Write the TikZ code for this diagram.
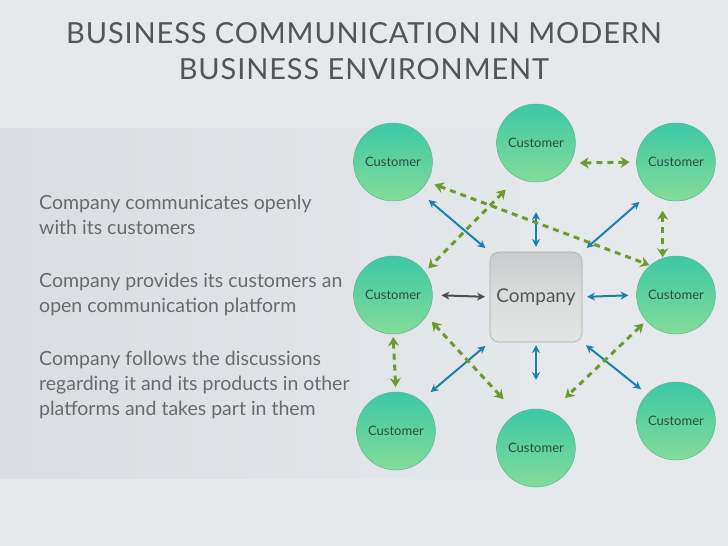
\documentclass[tikz,border=0pt]{standalone}
\usepackage{fontspec}
\setmainfont{Lato}
\usetikzlibrary{shapes.geometric,arrows.meta}
\definecolor{bgcol}{HTML}{E6E9EC}
\definecolor{bandcol}{HTML}{DADDE1}
\definecolor{titlecol}{HTML}{555555}
\definecolor{textcol}{HTML}{6A6A6A}
\definecolor{custtop}{HTML}{3CC8A6}
\definecolor{custbot}{HTML}{84DC99}
\definecolor{custline}{HTML}{5DB58E}
\definecolor{custtext}{HTML}{2F4A42}
\definecolor{boxtop}{HTML}{C8CCCC}
\definecolor{boxbot}{HTML}{E3E4E4}
\definecolor{boxline}{HTML}{A9ABAB}
\definecolor{arrblue}{HTML}{1C80AE}
\definecolor{arrgreen}{HTML}{6B9B2E}
\definecolor{arrgray}{HTML}{4C4C4C}
\begin{document}
\begin{tikzpicture}[x=1pt,y=-1pt,
	cust/.style={ellipse,minimum width=72pt,minimum height=78pt,inner sep=0pt,outer sep=0pt,
		draw=custline,line width=.5pt,top color=custtop,bottom color=custbot,
		font=\fontsize{13}{15}\selectfont,text=custtext},
	compbox/.style={rectangle,rounded corners=9pt,minimum width=92pt,minimum height=90pt,outer sep=0pt,
		draw=boxline,line width=.6pt,top color=boxtop,bottom color=boxbot,middle color=boxbot!70!boxtop,
		font=\fontsize{19}{22}\selectfont,text=titlecol},
	para/.style={anchor=north west,inner sep=0pt,align=left,font=\fontsize{19.5}{25}\selectfont,text=textcol},
	blu/.style={{Stealth[length=8pt,width=8pt]}-{Stealth[length=8pt,width=8pt]},line width=2pt,draw=arrblue},
	gry/.style={{Stealth[length=8pt,width=8pt]}-{Stealth[length=8pt,width=8pt]},line width=2pt,draw=arrgray},
	grn/.style={{Stealth[length=9pt,width=11pt]}-{Stealth[length=9pt,width=11pt]},line width=3pt,
		dash pattern=on 6pt off 5pt,draw=arrgreen}]
	\useasboundingbox (0,0) rectangle (728,546);
	\fill[bgcol] (0,0) rectangle (728,546);
	\fill[left color=bandcol,right color=bgcol] (0,128) rectangle (600,478);
	% title
	\node[font=\fontsize{29}{36}\selectfont\addfontfeatures{LetterSpace=3},text=titlecol,align=center] (title) at (364,51)
		{BUSINESS COMMUNICATION IN MODERN\\BUSINESS ENVIRONMENT};
	% left text
	\node[para] (p1) at (39,195) {Company communicates openly\\with its customers};
	\node[para] (p2) at (39,273) {Company provides its customers an\\open communication platform};
	\node[para] (p3) at (39,351) {Company follows the discussions\\regarding it and its products in other\\platforms and takes part in them};
	% company and customers
	\node[compbox] (co) at (536,297) {Company};
	\node[cust] (c1) at (393,162) {Customer};
	\node[cust] (c2) at (536,143) {Customer};
	\node[cust] (c3) at (676,162) {Customer};
	\node[cust] (c4) at (393,295) {Customer};
	\node[cust] (c5) at (676,295) {Customer};
	\node[cust] (c6) at (396,431) {Customer};
	\node[cust] (c7) at (536,448) {Customer};
	\node[cust] (c8) at (676,421) {Customer};
	% company <-> customers
	\draw[blu,shorten <=13pt,shorten >=6pt] (c1.-49) -- (co.north west);
	\draw[blu,shorten <=30pt,shorten >=5pt] (c2.south) -- (co.north);
	\draw[blu,shorten <=15pt,shorten >=6pt] (c3.-130) -- (co.north east);
	\draw[blu,shorten <=5pt,shorten >=8pt] (co.east) -- (c5.west);
	\draw[blu,shorten <=6pt,shorten >=13pt] (co.south west) -- (c6.51);
	\draw[blu,shorten <=3pt,shorten >=29pt] (co.south) -- (c7.north);
	\draw[blu,shorten <=5pt,shorten >=8pt] (co.south east) -- (c8.137);
	\draw[gry,shorten <=9pt,shorten >=5pt] (c4.east) -- (co.west);
	% customer <-> customer
	\draw[grn,shorten <=10pt,shorten >=7pt] (c2.-31) -- (c3.west);
	\draw[grn,shorten <=8pt,shorten >=1pt] (c1.-30) -- (c5.131);
	\draw[grn,shorten <=17pt,shorten >=5pt] (c2.-118) -- (c4.36);
	\draw[grn,shorten <=12pt,shorten >=1pt] (c3.-110) -- (c5.110);
	\draw[grn,shorten <=3pt,shorten >=5pt] (c4.south) -- (c6.north);
	\draw[grn,shorten <=8pt,shorten >=20pt] (c4.-32) -- (c7.119);
	\draw[grn,shorten <=4pt,shorten >=20pt] (c5.-139) -- (c7.68);
\end{tikzpicture}
\end{document}
